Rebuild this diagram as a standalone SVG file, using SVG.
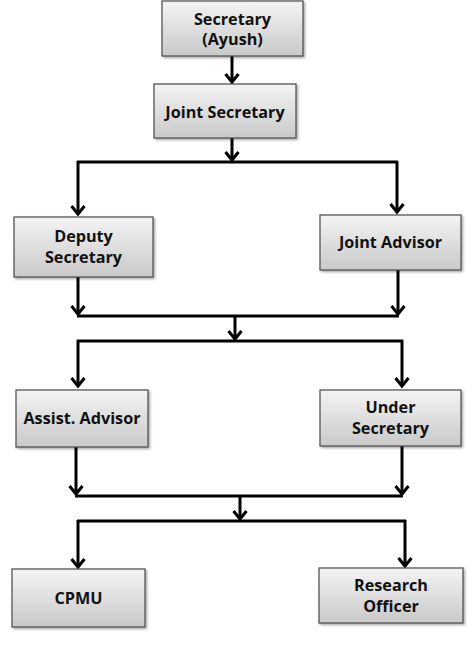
<svg xmlns="http://www.w3.org/2000/svg" width="474" height="667" viewBox="0 0 474 667">
<defs>
<linearGradient id="g" x1="0" y1="0" x2="0" y2="1">
<stop offset="0" stop-color="#f4f4f4"/>
<stop offset="1" stop-color="#c9c9c9"/>
</linearGradient>
<filter id="sh" x="-10%" y="-10%" width="130%" height="130%">
<feDropShadow dx="1.5" dy="1.5" stdDeviation="1.2" flood-color="#000" flood-opacity="0.35"/>
</filter>
<marker id="arr" markerUnits="userSpaceOnUse" viewBox="-10 -8 13 16" refX="0" refY="0" markerWidth="13" markerHeight="16" orient="auto" overflow="visible">
<path d="M-8,-6.5 L0,0 L-8,6.5" fill="none" stroke="#000" stroke-width="3"/>
</marker>
</defs>
<style>
.box{fill:url(#g);stroke:#4a4a4a;stroke-width:1.2;filter:url(#sh)}
.t{font-family:"Open Sans","Noto Sans",sans-serif;font-weight:bold;font-size:16.2px;fill:#111;text-anchor:middle}
.c{fill:none;stroke:#000;stroke-width:3}
.a{marker-end:url(#arr)}
</style>
<rect width="474" height="667" fill="#fff"/>
<g id="connectors">
<line class="c a" x1="232" y1="56" x2="232" y2="82"/>
<line class="c a" x1="232" y1="138" x2="232" y2="160"/>
<line class="c" x1="77" y1="162" x2="398" y2="162"/>
<line class="c a" x1="78" y1="161" x2="78" y2="214"/>
<line class="c a" x1="397" y1="161" x2="397" y2="212"/>
<line class="c a" x1="78" y1="277" x2="78" y2="314"/>
<line class="c a" x1="398" y1="270" x2="398" y2="314"/>
<line class="c" x1="77" y1="316" x2="399" y2="316"/>
<line class="c a" x1="235" y1="316" x2="235" y2="339"/>
<line class="c" x1="77" y1="341" x2="403" y2="341"/>
<line class="c a" x1="78" y1="340" x2="78" y2="386"/>
<line class="c a" x1="402" y1="340" x2="402" y2="386"/>
<line class="c a" x1="76" y1="447" x2="76" y2="494"/>
<line class="c a" x1="402" y1="446" x2="402" y2="494"/>
<line class="c" x1="75" y1="496" x2="403" y2="496"/>
<line class="c a" x1="240" y1="496" x2="240" y2="519"/>
<line class="c" x1="77" y1="521" x2="406" y2="521"/>
<line class="c a" x1="78" y1="520" x2="78" y2="567"/>
<line class="c a" x1="405" y1="520" x2="405" y2="566"/>
</g>
<g id="secretary">
<rect class="box" x="162" y="1" width="141" height="55"/>
<text class="t" x="232.5" y="25">Secretary</text>
<text class="t" x="232.5" y="45">(Ayush)</text>
</g>
<g id="joint-secretary">
<rect class="box" x="154" y="84" width="142" height="54"/>
<text class="t" x="225" y="118">Joint Secretary</text>
</g>
<g id="deputy-secretary">
<rect class="box" x="14" y="217" width="139" height="60"/>
<text class="t" x="83.5" y="242">Deputy</text>
<text class="t" x="83.5" y="263">Secretary</text>
</g>
<g id="joint-advisor">
<rect class="box" x="320" y="215" width="141" height="55"/>
<text class="t" x="390.5" y="248">Joint Advisor</text>
</g>
<g id="assist-advisor">
<rect class="box" x="16" y="390" width="132" height="57"/>
<text class="t" x="82" y="424">Assist. Advisor</text>
</g>
<g id="under-secretary">
<rect class="box" x="320" y="390" width="141" height="56"/>
<text class="t" x="390.5" y="413">Under</text>
<text class="t" x="390.5" y="434">Secretary</text>
</g>
<g id="cpmu">
<rect class="box" x="12" y="569" width="133" height="58"/>
<text class="t" x="78.5" y="604">CPMU</text>
</g>
<g id="research-officer">
<rect class="box" x="319" y="568" width="144" height="55"/>
<text class="t" x="391" y="591">Research</text>
<text class="t" x="391" y="612">Officer</text>
</g>
</svg>
